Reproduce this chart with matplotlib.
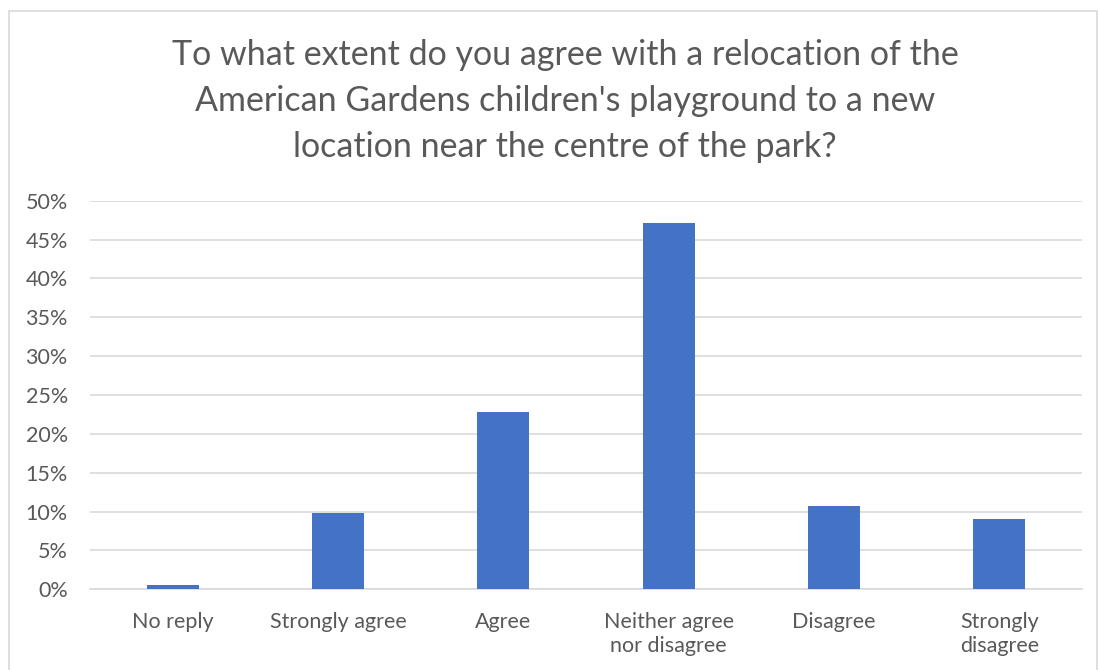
import matplotlib.pyplot as plt
from matplotlib.patches import Rectangle
from matplotlib.ticker import PercentFormatter

plt.rcParams['font.family'] = ['Lato', 'DejaVu Sans']

categories = ['No reply', 'Strongly agree', 'Agree', 'Neither agree\nnor disagree',
              'Disagree', 'Strongly\ndisagree']
shares = [0.5, 9.8, 22.8, 47.1, 10.7, 9.0]

title = ("To what extent do you agree with a relocation of the\n"
         "American Gardens children's playground to a new\n"
         "location near the centre of the park?")

grey = '#595959'
grid = '#D9D9D9'

fig = plt.figure(figsize=(10.98, 6.7), dpi=100)
fig.patches.append(Rectangle((9 / 1098, -0.01), 1088 / 1098, 1 - 11 / 670 + 0.01,
                             transform=fig.transFigure, fill=False,
                             edgecolor='#D9D9D9', linewidth=1.2))

ax = fig.add_axes([90 / 1098, 1 - 589.3 / 670, 992 / 1098, 388.6 / 670])
x = range(len(categories))
ax.bar(x, shares, width=0.315, color='#4472C4', zorder=3)

ax.set_xlim(-0.5, len(categories) - 0.5)
ax.set_ylim(0, 50)
ax.set_yticks(range(0, 51, 5))
ax.yaxis.set_major_formatter(PercentFormatter(decimals=0))
ax.set_xticks(list(x))
ax.set_xticklabels(categories, linespacing=1.3, va='top')
ax.tick_params(axis='both', length=0, labelsize=15.5, colors=grey)
ax.tick_params(axis='x', pad=16)
ax.tick_params(axis='y', pad=16)
ax.grid(axis='y', color=grid, linewidth=1.2, zorder=0)
for s in ['top', 'right', 'left']:
    ax.spines[s].set_visible(False)
ax.spines['bottom'].set_color(grid)
ax.spines['bottom'].set_linewidth(1.2)

fig.text(565 / 1098, 1 - 101 / 670, title, ha='center', va='center',
         fontsize=24.5, color=grey, linespacing=1.52)

fig.savefig('out.png', dpi=100)
